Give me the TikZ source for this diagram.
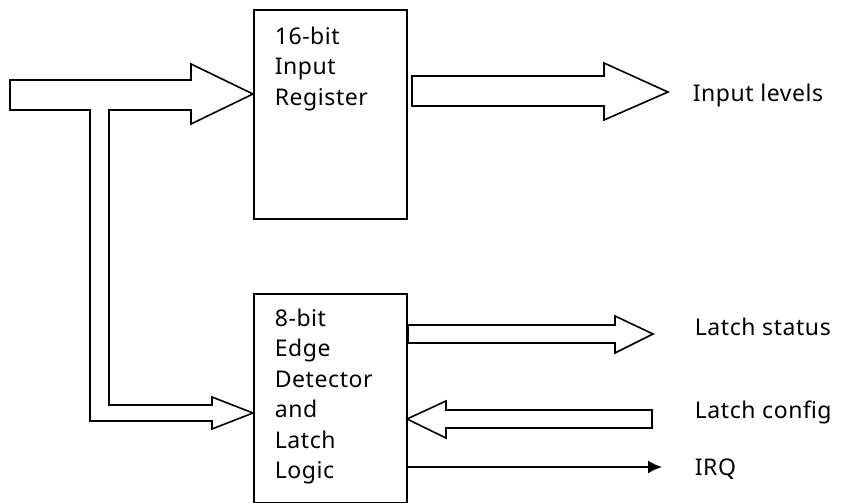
\documentclass[tikz,border=0pt]{standalone}
\usepackage{fontspec}
\setmainfont{Noto Sans}[LetterSpace=2.5]
\usetikzlibrary{arrows.meta}

\begin{document}
\begin{tikzpicture}
		[
		x=1pt, y=-1pt, line width=1.6pt, font=\fontsize{23}{30.5}\selectfont,
		>={Latex[length=14pt,width=13pt]},
		%Vorlagen
		block/.style={draw, rectangle, minimum width=153pt, minimum height=209pt, inner sep=0pt, anchor=north west},
		blocktext/.style={anchor=north west, align=left, inner sep=0pt},
		sigtext/.style={anchor=base west, inner sep=0pt},
		hollow/.style={draw, fill=white, line join=miter}
		]
		
		\useasboundingbox (0,0) rectangle (844,503);
		
		%Kasten oben
		\node[block] (inreg) at (253,9) {};
		\node[blocktext] (inregtext) at (274,26) {16-bit\\Input\\Register};
		
		%Kasten unten
		\node[block] (edge) at (253,293) {};
		\node[blocktext] (edgetext) at (274,308) {8-bit\\Edge\\Detector\\and\\Latch\\Logic};
		
		%Eingang mit Abzweig nach unten
		\draw[hollow] (10,80) -- (191,80) -- (191,64) -- (253,94) -- (191,124) -- (191,110)
			-- (109,110) -- (109,405) -- (212,405) -- (212,397) -- (253,413) -- (212,429)
			-- (212,421) -- (90,421) -- (90,110) -- (10,110) -- cycle;
		
		%Input levels
		\draw[hollow] (412,76) -- (604,76) -- (604,63) -- (668,92) -- (604,120) -- (604,106) -- (412,106) -- cycle;
		\node[sigtext] (levels) at (692,102) {Input levels};
		
		%Latch status
		\draw[hollow] (408,325) -- (615,325) -- (615,316) -- (653,334) -- (615,353) -- (615,343) -- (408,343) -- cycle;
		\node[sigtext] (status) at (694,335) {Latch status};
		
		%Latch config
		\draw[hollow] (652,410) -- (446,410) -- (446,401) -- (407,419) -- (446,438) -- (446,428) -- (652,428) -- cycle;
		\node[sigtext] (config) at (694,418) {Latch config};
		
		%IRQ
		\coordinate (irqend) at (662,467);
		\draw[->] (edge.east |- irqend) -- (irqend);
		\node[sigtext] (irq) at (694,475) {IRQ};
		
\end{tikzpicture}
\end{document}
